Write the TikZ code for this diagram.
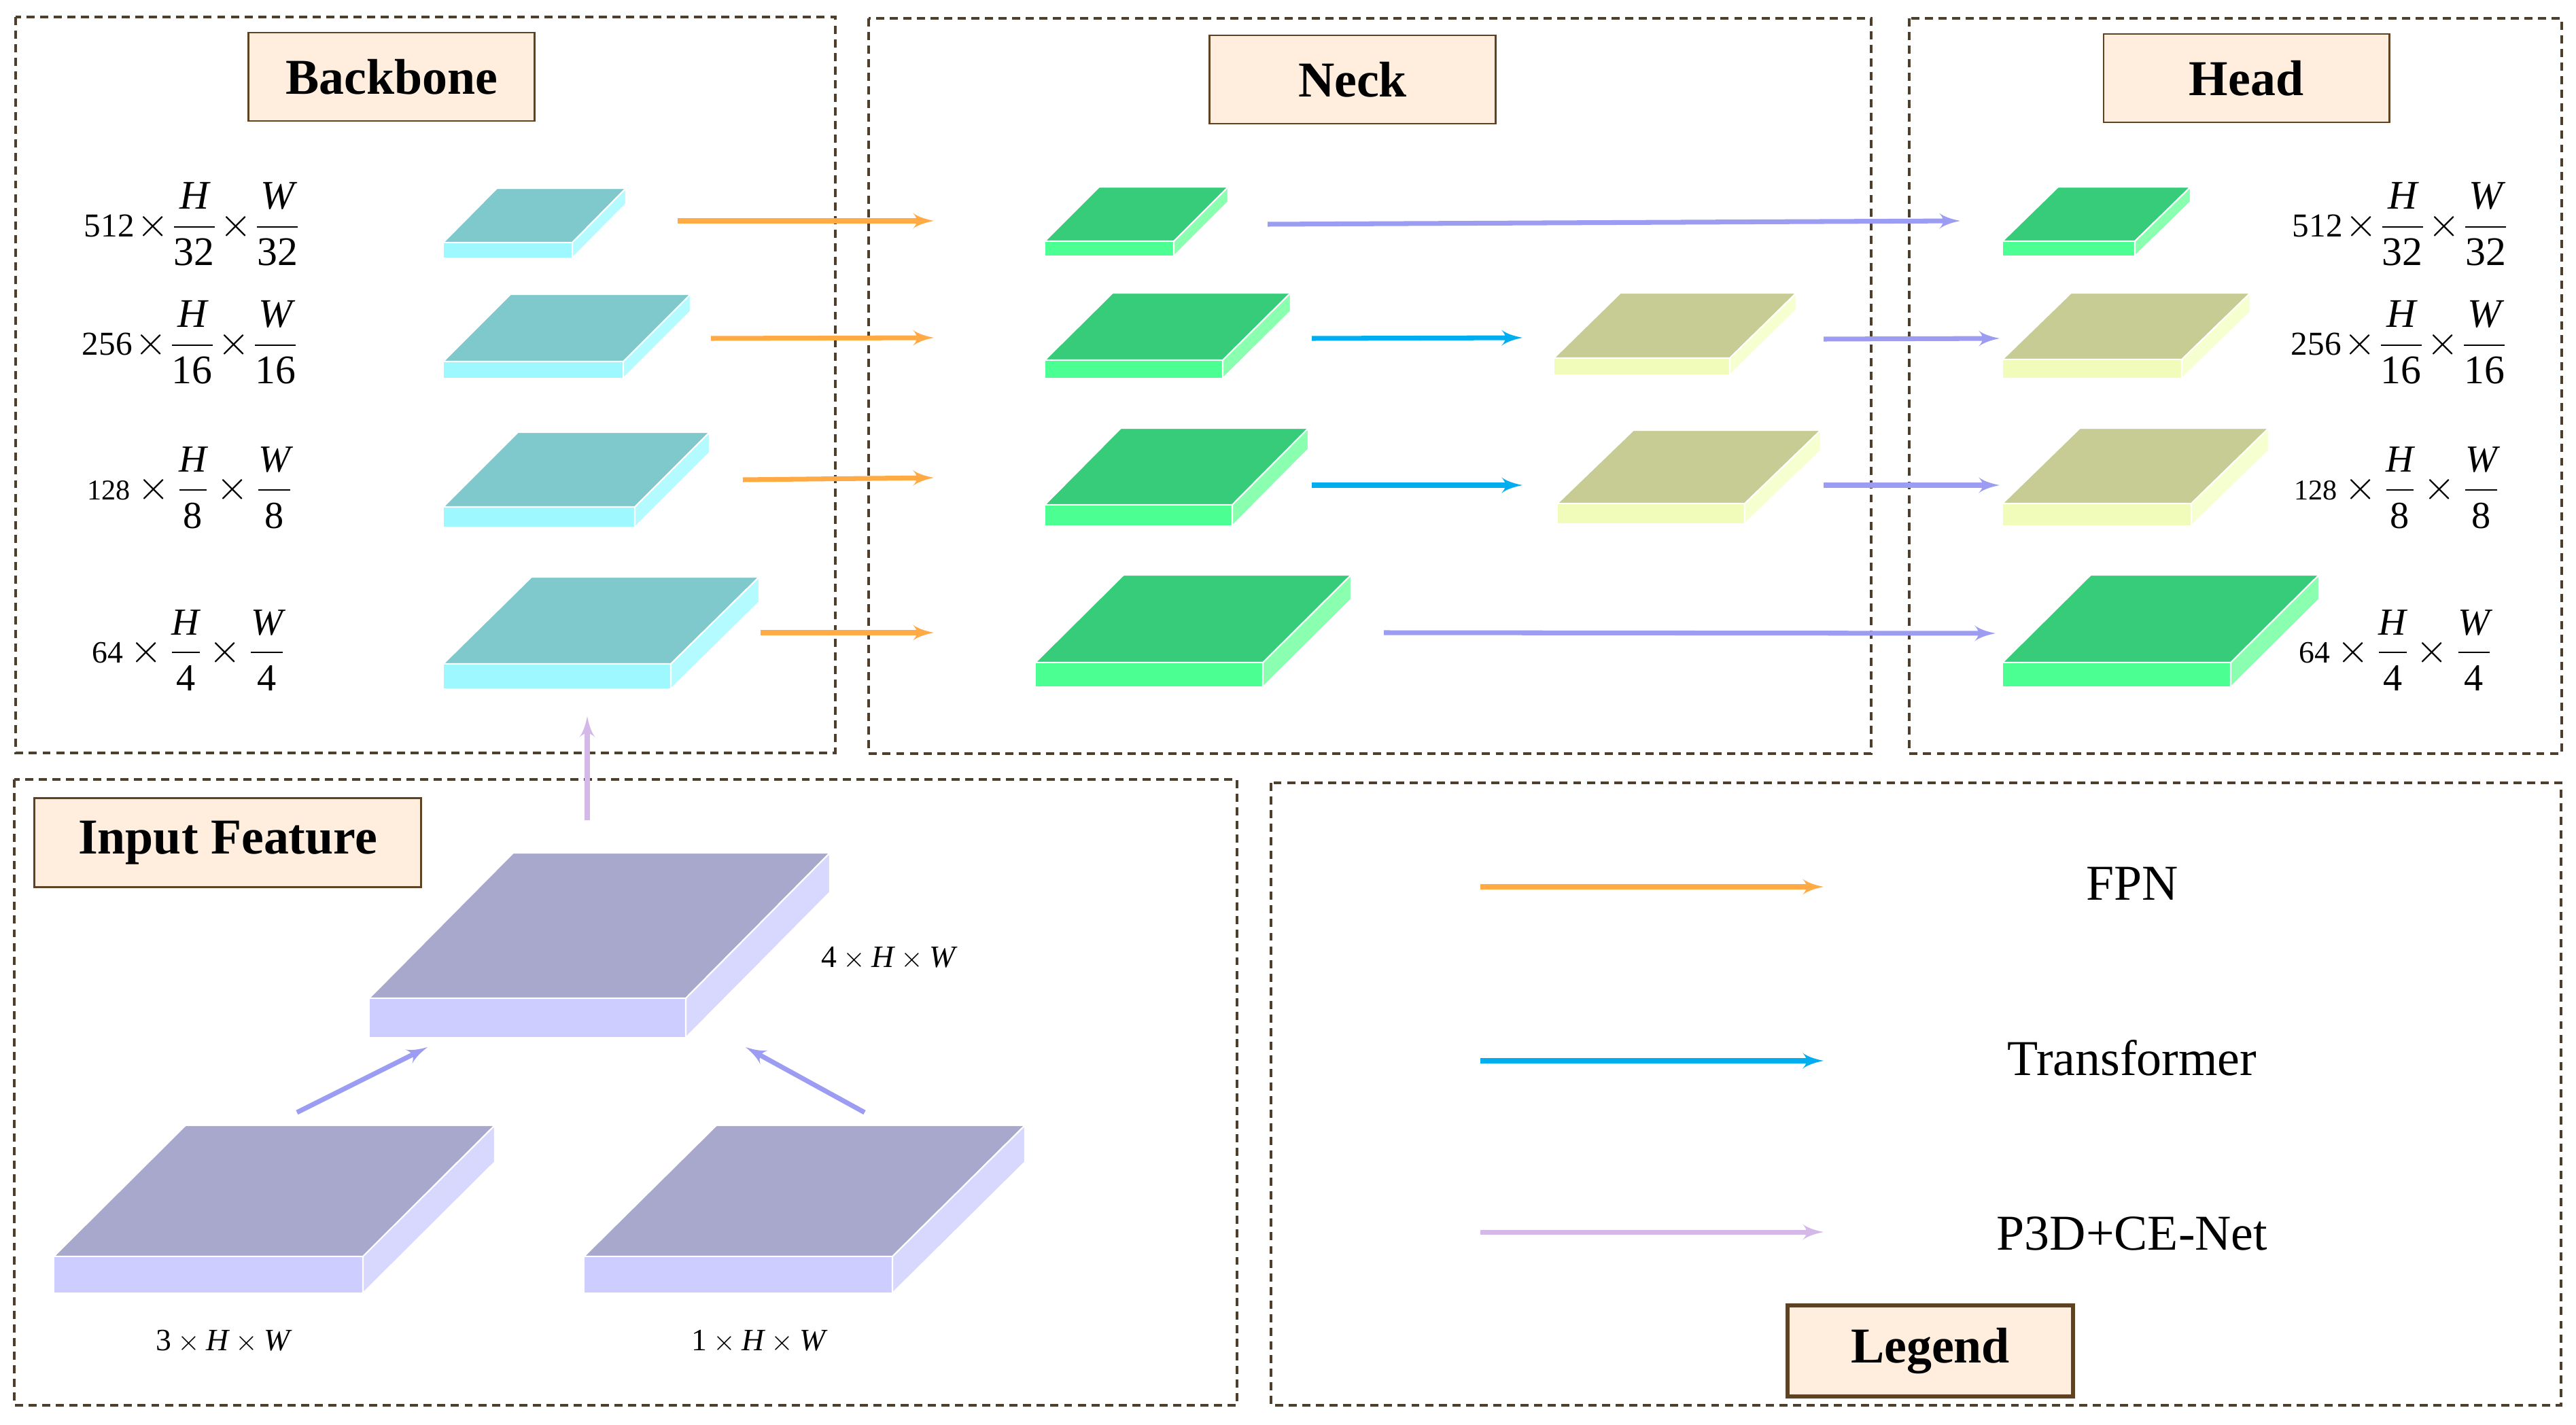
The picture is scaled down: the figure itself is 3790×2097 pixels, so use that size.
\documentclass[tikz,border=0pt]{standalone}
\usepackage{amssymb, amsmath}
\usepackage{fontspec}
\setmainfont{Liberation Serif}
\usepackage{tikz}
\usetikzlibrary{arrows}

\definecolor{bbtop}{HTML}{7FC8CC}
\definecolor{bbfront}{HTML}{9EF8FF}
\definecolor{bbside}{HTML}{B4FBFF}
\definecolor{grtop}{HTML}{36CC7A}
\definecolor{grfront}{HTML}{4CFF93}
\definecolor{grside}{HTML}{8AFFB0}
\definecolor{khtop}{HTML}{C6CC94}
\definecolor{khfront}{HTML}{F2FCBA}
\definecolor{khside}{HTML}{F6FFD0}
\definecolor{putop}{HTML}{A8A8CC}
\definecolor{pufront}{HTML}{CDCDFF}
\definecolor{puside}{HTML}{D8D8FF}
\definecolor{fpncol}{HTML}{FFAA44}
\definecolor{trcol}{HTML}{00AEEF}
\definecolor{skipcol}{HTML}{9C9CF2}
\definecolor{p3dcol}{HTML}{D3B8E8}
\definecolor{titlefill}{HTML}{FFEEDD}
\definecolor{titlebrown}{HTML}{5E4222}
\definecolor{panelcol}{HTML}{4E3E2C}

% flat feature map: name, front-left x, front-top y, width, shift x, shift y, thickness, colour set
\newcommand{\slab}[8]{
  \fill[#8top, draw=white, line width=0.6pt] (#2,#3) -- ++(#5,-#6) -- ++(#4,0) -- ++(-#5,#6) -- cycle;
  \fill[#8front, draw=white, line width=0.6pt] (#2,#3) rectangle ++(#4,#7);
  \fill[#8side, draw=white, line width=0.6pt] ({#2+#4},#3) -- ++(#5,-#6) -- ++(0,#7) -- ++(-#5,#6) -- cycle;
  \coordinate (#1) at ({#2+#4/2},{#3+#7/2});
}
% size label: number size, number, fraction size, denominator, spacing
\newcommand{\dimlab}[5]{{\fontsize{#3}{#3}\selectfont\medmuskip=#5mu$\mbox{\fontsize{#1}{#1}\selectfont #2}\times\dfrac{\textit{H}}{\textrm{#4}}\times\dfrac{\textit{W}}{\textrm{#4}}$}}

\begin{document}
\begin{tikzpicture}[x=0.01cm, y=-0.01cm]
            \tikzset{panel/.style = {draw=panelcol, line width=0.9pt, dash pattern=on 3.4pt off 2.3pt}}
            \tikzset{title/.style = {shape=rectangle, draw=titlebrown, fill=titlefill, line width=0.8pt,
                     minimum width=4.2cm, minimum height=1.3cm, font=\fontsize{21}{25}\selectfont\bfseries}}
            \tikzset{legendbox/.style = {title, line width=1.8pt, minimum height=1.34cm}}
            \tikzset{dimtext/.style = {inner sep=0pt}}
            \tikzset{legtext/.style = {inner sep=0pt, font=\fontsize{21}{25}\selectfont}}
            \tikzset{edge/.style = {->, > = latex', line width=2pt}}
            \tikzset{fpn/.style = {edge, fpncol}}
            \tikzset{trans/.style = {edge, trcol}}
            \tikzset{skip/.style = {edge, skipcol}}
            \tikzset{p3d/.style = {edge, p3dcol}}

            \useasboundingbox (0,0) rectangle (3790,2097);

            % panels
            \draw[panel] (23,25) rectangle (1229,1108);
            \draw[panel] (1278,27) rectangle (2753,1109);
            \draw[panel] (2809,27) rectangle (3769,1109);
            \draw[panel] (21,1147) rectangle (1820,2068);
            \draw[panel] (1870,1152) rectangle (3768,2068);

            \node[title] (backbone) at (576,113) {Backbone};
            \node[title] (neck) at (1990,117) {Neck};
            \node[title] (head) at (3305,115) {Head};
            \node[title, minimum width=5.69cm, minimum height=1.31cm] (input) at (335,1240) {Input Feature};
            \node[legendbox] (legend) at (2840,1988) {Legend};

            % backbone
            \slab{bb1}{652}{357}{190}{79}{80}{23}{bb}
            \slab{bb2}{652}{532}{265}{99}{99}{25}{bb}
            \slab{bb3}{652}{746}{282}{110}{110}{30}{bb}
            \slab{bb4}{652}{977}{335}{130}{128}{37}{bb}
            % neck
            \slab{nk1}{1537}{355}{190}{80}{80}{22}{gr}
            \slab{nk2}{1537}{530}{262}{100}{99}{27}{gr}
            \slab{nk3}{1537}{743}{276}{112}{113}{31}{gr}
            \slab{nk4}{1523}{975}{335}{130}{129}{36}{gr}
            \slab{tf2}{2286}{527}{259}{98}{96}{25}{kh}
            \slab{tf3}{2291}{741}{276}{112}{108}{30}{kh}
            % head
            \slab{hd1}{2946}{355}{195}{82}{80}{22}{gr}
            \slab{hd2}{2946}{529}{264}{101}{98}{28}{kh}
            \slab{hd3}{2946}{741}{278}{114}{111}{33}{kh}
            \slab{hd4}{2946}{975}{336}{130}{129}{36}{gr}
            % input feature
            \slab{in0}{543}{1469}{466}{212}{214}{58}{pu}
            \slab{in1}{79}{1849}{455}{194}{193}{54}{pu}
            \slab{in2}{859}{1849}{454}{195}{193}{54}{pu}

            % size labels
            \node[dimtext] (bbl1) at (283,330) {\dimlab{14}{512}{17}{32}{1}};
            \node[dimtext] (bbl2) at (280,504) {\dimlab{14}{256}{17}{16}{1}};
            \node[dimtext] (bbl3) at (280,718) {\dimlab{12}{128}{16}{8}{3}};
            \node[dimtext] (bbl4) at (278,957) {\dimlab{13}{64}{16}{4}{3}};
            \node[dimtext] (hdl1) at (3532,330) {\dimlab{14}{512}{17}{32}{1}};
            \node[dimtext] (hdl2) at (3530,504) {\dimlab{14}{256}{17}{16}{1}};
            \node[dimtext] (hdl3) at (3527,718) {\dimlab{12}{128}{16}{8}{3}};
            \node[dimtext] (hdl4) at (3525,957) {\dimlab{13}{64}{16}{4}{3}};
            \node[dimtext, font=\fontsize{13}{15}\selectfont] (inl0) at (1307,1410) {$\textrm{4}\times\textit{H}\times\textit{W}$};
            \node[dimtext, font=\fontsize{13}{15}\selectfont] (inl1) at (328,1974) {$\textrm{3}\times\textit{H}\times\textit{W}$};
            \node[dimtext, font=\fontsize{13}{15}\selectfont] (inl2) at (1116,1974) {$\textrm{1}\times\textit{H}\times\textit{W}$};

            % arrow ends
            \coordinate (f1a) at (997,325);  \coordinate (f1b) at (1374,325);
            \coordinate (f2a) at (1046,498); \coordinate (f2b) at (1374,497);
            \coordinate (f3a) at (1093,706); \coordinate (f3b) at (1374,703);
            \coordinate (f4a) at (1119,931); \coordinate (f4b) at (1374,931);
            \coordinate (t2a) at (1930,498); \coordinate (t2b) at (2240,497);
            \coordinate (t3a) at (1930,714); \coordinate (t3b) at (2240,714);
            \coordinate (s1a) at (1865,330); \coordinate (s1b) at (2884,325);
            \coordinate (s2a) at (2683,499); \coordinate (s2b) at (2942,498);
            \coordinate (s3a) at (2683,714); \coordinate (s3b) at (2942,714);
            \coordinate (s4a) at (2036,931); \coordinate (s4b) at (2936,932);
            \coordinate (i1a) at (437,1637); \coordinate (i1b) at (629,1541);
            \coordinate (i2a) at (1272,1637); \coordinate (i2b) at (1097,1541);
            \coordinate (upa) at (864,1207); \coordinate (upb) at (864,1054);

            \draw[fpn] (f1a) to (f1b);
            \draw[fpn] (f2a) to (f2b);
            \draw[fpn] (f3a) to (f3b);
            \draw[fpn] (f4a) to (f4b);
            \draw[trans] (t2a) to (t2b);
            \draw[trans] (t3a) to (t3b);
            \draw[skip] (s1a) to (s1b);
            \draw[skip] (s2a) to (s2b);
            \draw[skip] (s3a) to (s3b);
            \draw[skip] (s4a) to (s4b);
            \draw[skip] (i1a) to (i1b);
            \draw[skip] (i2a) to (i2b);
            \draw[p3d] (upa) to (upb);

            % legend
            \coordinate (lg1a) at (2178,1305); \coordinate (lg1b) at (2683,1305);
            \coordinate (lg2a) at (2178,1561); \coordinate (lg2b) at (2683,1561);
            \coordinate (lg3a) at (2178,1813); \coordinate (lg3b) at (2683,1813);
            \draw[fpn] (lg1a) to (lg1b);
            \draw[trans] (lg2a) to (lg2b);
            \draw[p3d] (lg3a) to (lg3b);
            \node[legtext] (fpntext) at (3137,1300) {FPN};
            \node[legtext] (trtext) at (3137,1557) {Transformer};
            \node[legtext] (p3dtext) at (3137,1815) {P3D+CE-Net};
        \end{tikzpicture}
\end{document}
